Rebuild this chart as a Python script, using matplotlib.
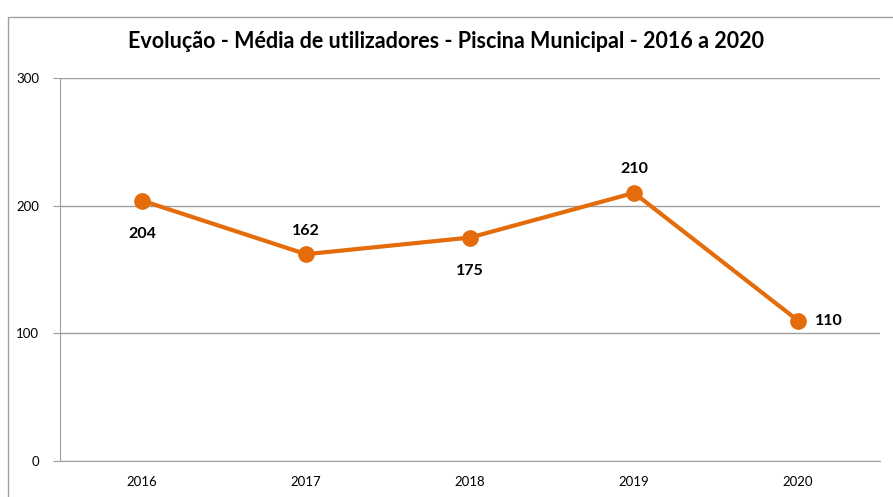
import matplotlib.pyplot as plt
from matplotlib.patches import Rectangle

years = ["2016", "2017", "2018", "2019", "2020"]
users = [204, 162, 175, 210, 110]
# where each value label sits relative to its point
label_pos = ["below", "above", "below", "above", "right"]

plt.rcParams['font.family'] = ['Lato', 'DejaVu Sans']

fig = plt.figure(figsize=(8.93, 4.97), dpi=100)
ax = fig.add_axes([60 / 893, 1 - 461 / 497, (880 - 60) / 893, (461 - 78) / 497])

x = range(len(years))
orange = "#E46C0A"
ax.plot(x, users, color=orange, lw=3, marker="o", ms=11, zorder=3)

for i, (v, pos) in enumerate(zip(users, label_pos)):
    if pos == "below":
        off, ha, va = (0, -19), "center", "top"
    elif pos == "above":
        off, ha, va = (0, 12), "center", "bottom"
    else:
        off, ha, va = (12, 0), "left", "center"
    ax.annotate(str(v), (i, v), xytext=off, textcoords="offset points",
                ha=ha, va=va, fontsize=11.5, fontweight="bold", color="black")

ax.set_xlim(-0.5, len(years) - 0.5)
ax.set_ylim(0, 300)
ax.set_yticks([0, 100, 200, 300])
ax.set_xticks(list(x))
ax.set_xticklabels(years)
ax.tick_params(axis="x", length=0, pad=11, labelsize=9.5)
ax.tick_params(axis="y", length=5, color="#A0A0A0", pad=10, labelsize=9.5)
ax.grid(axis="y", color="#A0A0A0", lw=1)
ax.set_axisbelow(True)
for s in ["top", "right"]:
    ax.spines[s].set_visible(False)
for s in ["left", "bottom"]:
    ax.spines[s].set_color("#A0A0A0")

fig.text(0.5, 1 - 42 / 497, "Evolução - Média de utilizadores - Piscina Municipal - 2016 a 2020",
         ha="center", va="center", fontsize=15.5, fontweight="bold")

# chart frame
fig.patches.append(Rectangle((8 / 893, -0.1), 1.2, 1 - 17 / 497 + 0.1,
                             transform=fig.transFigure, fill=False,
                             edgecolor="#A0A0A0", lw=1))

fig.savefig("out.png", dpi=100)
